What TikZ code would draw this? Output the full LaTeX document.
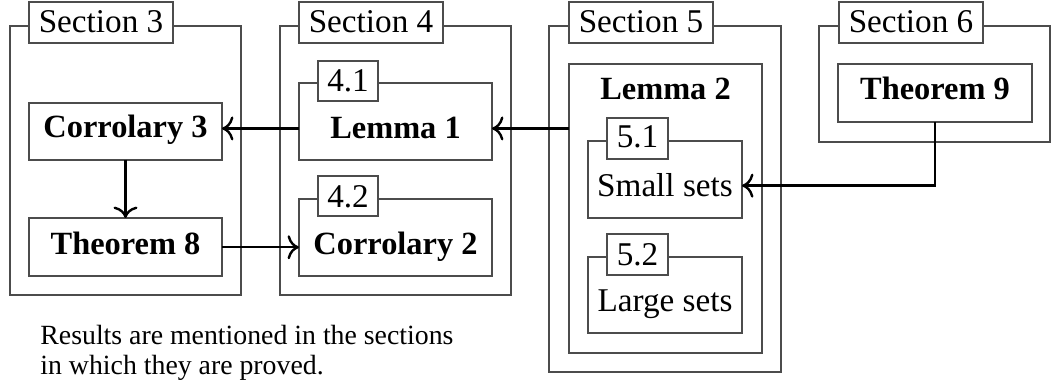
\documentclass[tikz,border=0pt]{standalone}
\usepackage{fontspec}
\setmainfont{Liberation Serif}
\usetikzlibrary{arrows.meta}
\begin{document}
\begin{tikzpicture}[x=0.5pt,y=-0.5pt,
  every node/.style={font=\fontsize{16.6}{19}\selectfont},
  frame/.style={draw=black!70,line width=0.6pt,inner sep=0pt,outer sep=0pt},
  tag/.style={frame,fill=white},
  txt/.style={anchor=base,inner sep=0pt},
  btxt/.style={txt,font=\fontsize{16.2}{19}\selectfont\bfseries},
  note/.style={anchor=base west,inner sep=0pt,font=\fontsize{13.9}{16}\selectfont},
  link/.style={-{To[scale=1.35]},line width=1.2pt}]
\useasboundingbox (0,0) rectangle (1051,385);
% outer section frames
\node[frame,minimum width=115.5pt,minimum height=134.5pt] (s3) at (125.5,160.5) {};
\node[frame,minimum width=115.5pt,minimum height=134.5pt] (s4) at (395.5,160.5) {};
\node[frame,minimum width=116pt,minimum height=173pt] (s5) at (665,199) {};
\node[frame,minimum width=115.5pt,minimum height=58pt] (s6) at (934.5,84) {};
% section tags
\node[tag,minimum width=72pt,minimum height=20.5pt] (t3) at (101,22.5) {};
\node[tag,minimum width=72pt,minimum height=20.5pt] (t4) at (371,22.5) {};
\node[tag,minimum width=72pt,minimum height=20.5pt] (t5) at (641,22.5) {};
\node[tag,minimum width=72pt,minimum height=20.5pt] (t6) at (911,22.5) {};
\node[txt] (t3x) at (101,33) {Section 3};
\node[txt] (t4x) at (371,33) {Section 4};
\node[txt] (t5x) at (641,33) {Section 5};
\node[txt] (t6x) at (911,33) {Section 6};
% section 3
\node[frame,minimum width=96.5pt,minimum height=28.5pt] (cor3) at (125.5,131.5) {};
\node[btxt] (cor3x) at (125.5,138) {Corrolary 3};
\node[frame,minimum width=96.5pt,minimum height=29pt] (thm8) at (125.5,247) {};
\node[btxt] (thm8x) at (125.5,255) {Theorem 8};
% section 4
\node[frame,minimum width=96.5pt,minimum height=38.5pt] (b41) at (395.5,121.5) {};
\node[tag,minimum width=30pt,minimum height=20pt] (t41) at (348,81) {};
\node[txt] (t41x) at (348,92) {4.1};
\node[btxt] (lem1) at (395.5,139) {Lemma 1};
\node[frame,minimum width=96.5pt,minimum height=38.5pt] (b42) at (395.5,237.5) {};
\node[tag,minimum width=30pt,minimum height=20pt] (t42) at (348,196) {};
\node[txt] (t42x) at (348,207) {4.2};
\node[btxt] (cor2) at (395.5,255) {Corrolary 2};
% section 5
\node[frame,minimum width=96.5pt,minimum height=144.5pt] (lem2) at (665.5,208.5) {};
\node[btxt] (lem2x) at (665.5,100) {Lemma 2};
\node[frame,minimum width=77pt,minimum height=38.5pt] (b51) at (665,179.5) {};
\node[tag,minimum width=30.5pt,minimum height=20.5pt] (t51) at (637.5,138.5) {};
\node[txt] (t51x) at (637.5,148) {5.1};
\node[txt] (small) at (665,197) {Small sets};
\node[frame,minimum width=77pt,minimum height=38pt] (b52) at (665,295) {};
\node[tag,minimum width=30.5pt,minimum height=20.5pt] (t52) at (637.5,254.5) {};
\node[txt] (t52x) at (637.5,265) {5.2};
\node[txt] (large) at (665,312) {Large sets};
% section 6
\node[frame,minimum width=97pt,minimum height=29pt] (thm9) at (935,93) {};
\node[btxt] (thm9x) at (935,100) {Theorem 9};
% note
\node[note] (n1) at (40,344) {Results are mentioned in the sections};
\node[note] (n2) at (40,374) {in which they are proved.};
% connectors
\draw[link] (lem2.west |- lem1) -- (b41.east |- lem1);
\draw[link] (b41.west |- lem1) -- (cor3.east |- lem1);
\draw[link] (cor3.south) -- (thm8.north);
\draw[link] (thm8.east |- cor2) -- (b42.west |- cor2);
\draw[link] (thm9.south) |- (b51.east |- small);
\end{tikzpicture}
\end{document}
